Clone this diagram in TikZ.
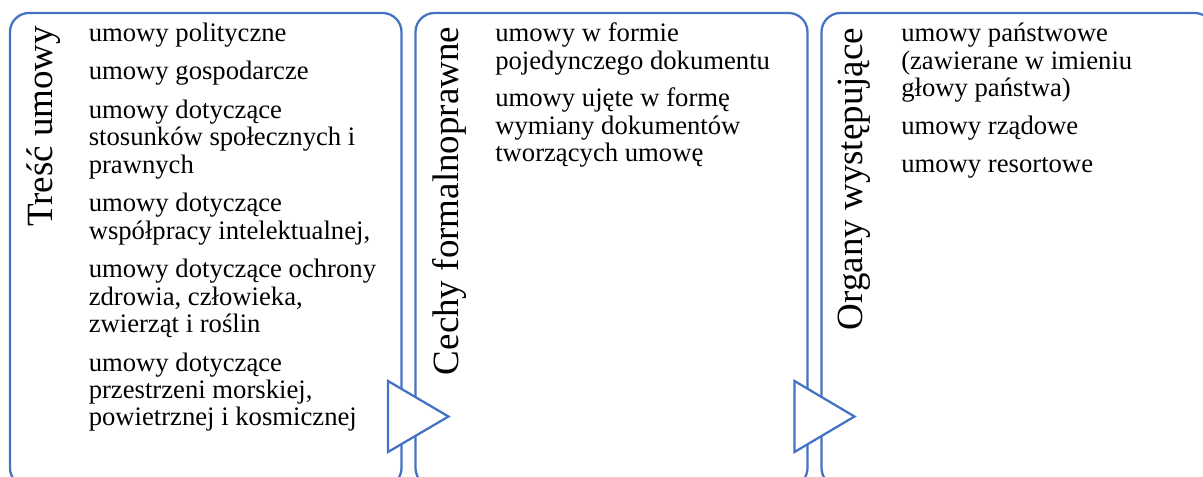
\documentclass[tikz,border=0pt]{standalone}
\usepackage{fontspec}
\setmainfont{Liberation Serif}
\definecolor{boxblue}{HTML}{4472C4}
\tikzset{
  panel/.style={draw=boxblue, line width=1.7pt, rounded corners=14.25pt},
  tri/.style={draw=boxblue, line width=1.7pt, fill=white, line join=miter},
  title/.style={rotate=90, anchor=base east, inner sep=0pt, font=\fontsize{27.75}{30}\selectfont},
  item/.style={anchor=base west, inner sep=0pt, font=\fontsize{20}{20.6}\selectfont},
}
\newcommand{\itm}[1]{\begin{tabular}[t]{@{}l@{}}#1\end{tabular}}
\begin{document}
\begin{tikzpicture}[x=0.75pt,y=-0.75pt]
\useasboundingbox (0,0) rectangle (1203,477);
\begin{scope}
\clip (0,0) rectangle (1203,477);
% panels
\draw[panel] (10,13) rectangle (401.5,487);
\draw[panel] (415.5,13) rectangle (807.5,487);
\draw[panel] (821.5,13) rectangle (1213.5,487);
% triangles
\draw[tri] (388,381) -- (448.5,416.5) -- (388,452) -- cycle;
\draw[tri] (794.5,381) -- (854.5,416.5) -- (794.5,452) -- cycle;
\end{scope}
% titles
\node[title] (t1) at (52,25.5) {Treść umowy};
\node[title] (t2) at (458,26.5) {Cechy formalnoprawne};
\node[title] (t3) at (862.5,27.5) {Organy występujące};
% panel 1 items
\node[item] (a1) at (88.5,41.7) {\itm{umowy polityczne}};
\node[item] (a2) at (88.5,80) {\itm{umowy gospodarcze}};
\node[item] (a3) at (88.5,118.3) {\itm{umowy dotyczące\\stosunków społecznych i\\prawnych}};
\node[item] (a4) at (88.5,211.7) {\itm{umowy dotyczące\\współpracy intelektualnej,}};
\node[item] (a5) at (88.5,277.7) {\itm{umowy dotyczące ochrony\\zdrowia, człowieka,\\zwierząt i roślin}};
\node[item] (a6) at (88.5,371) {\itm{umowy dotyczące\\przestrzeni morskiej,\\powietrznej i kosmicznej}};
% panel 2 items
\node[item] (b1) at (495,41.7) {\itm{umowy w formie\\pojedynczego dokumentu}};
\node[item] (b2) at (495,106.7) {\itm{umowy ujęte w formę\\wymiany dokumentów\\tworzących umowę}};
% panel 3 items
\node[item] (c1) at (901,41.7) {\itm{umowy państwowe\\(zawierane w imieniu\\głowy państwa)}};
\node[item] (c2) at (901,135) {\itm{umowy rządowe}};
\node[item] (c3) at (901,172.7) {\itm{umowy resortowe}};
\end{tikzpicture}
\end{document}
